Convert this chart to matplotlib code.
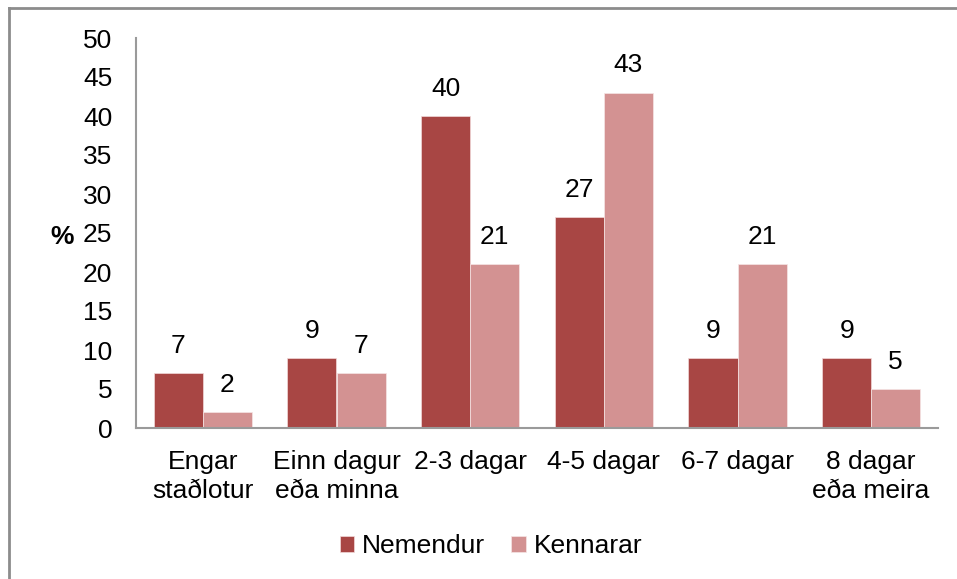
import matplotlib.pyplot as plt
import numpy as np
from matplotlib.lines import Line2D

plt.rcParams['font.family'] = ['Liberation Sans', 'DejaVu Sans']

categories = ['Engar\nstaðlotur', 'Einn dagur\neða minna', '2-3 dagar',
              '4-5 dagar', '6-7 dagar', '8 dagar\neða meira']
nemendur = [7, 9, 40, 27, 9, 9]
kennarar = [2, 7, 21, 43, 21, 5]

dark = '#A84644'
light = '#D39292'
fs = 19

fig = plt.figure(figsize=(9.57, 5.79), dpi=100)
ax = fig.add_axes([136 / 957, 1 - 428 / 579, (938 - 136) / 957, (428 - 38) / 579])

x = np.arange(len(categories))
w = 0.367
b1 = ax.bar(x - w / 2, nemendur, w, color=dark, edgecolor='#f2dada', linewidth=0.5, label='Nemendur')
b2 = ax.bar(x + w / 2, kennarar, w, color=light, edgecolor='#f6e6e6', linewidth=0.5, label='Kennarar')

for bars, vals in [(b1, nemendur), (b2, kennarar)]:
    for r, v in zip(bars, vals):
        ax.annotate(str(v), (r.get_x() + r.get_width() / 2, v), xytext=(0, 11),
                    textcoords='offset points', ha='center', va='bottom', fontsize=fs)

ax.set_xlim(-0.5, len(categories) - 0.5)
ax.set_ylim(0, 50)
ax.set_yticks(range(0, 51, 5))
ax.set_xticks(x)
ax.set_xticklabels(categories, fontsize=fs, linespacing=1.25)
ax.tick_params(axis='y', length=0, pad=17, labelsize=fs)
ax.tick_params(axis='x', length=0, pad=16)
for s in ['top', 'right']:
    ax.spines[s].set_visible(False)
for s in ['left', 'bottom']:
    ax.spines[s].set_color('#9a9a9a')
    ax.spines[s].set_linewidth(1.5)

fig.text(62 / 957, 1 - 237 / 579, '%', fontsize=fs, fontweight='bold', ha='center', va='center')

fig.legend(handles=[b1, b2], loc='center', bbox_to_anchor=(491 / 957, 1 - 546 / 579),
           ncol=2, frameon=False, fontsize=fs, handlelength=0.55, handleheight=0.55,
           handletextpad=0.3, columnspacing=1.0)

# outer chart border (only left and top visible in the crop)
fig.add_artist(Line2D([8.5 / 957, 8.5 / 957], [0, 1 - 7.5 / 579], transform=fig.transFigure,
                      color='#8c8c8c', linewidth=2))
fig.add_artist(Line2D([8.5 / 957, 1], [1 - 7.5 / 579, 1 - 7.5 / 579], transform=fig.transFigure,
                      color='#8c8c8c', linewidth=2))

fig.savefig('out.png', dpi=100)
